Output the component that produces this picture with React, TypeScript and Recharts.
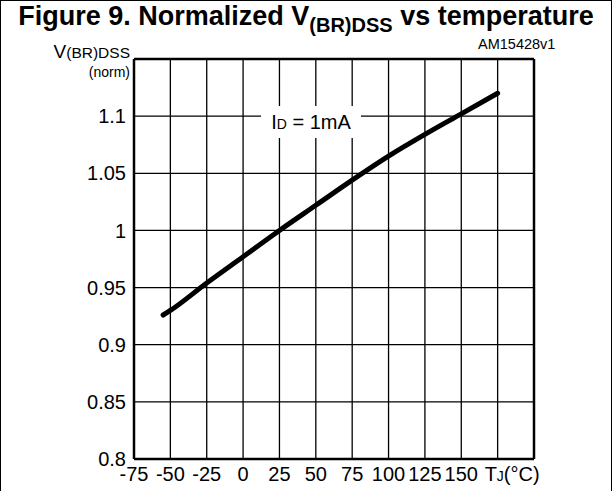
import { CartesianGrid, Line, LineChart, ReferenceLine, XAxis, YAxis } from 'recharts'

// Tj (°C)
const temps = [-55, -50, -25, 0, 25, 50, 75, 100, 125, 150, 175]
// V(BR)DSS normalized to 25 °C
const vbrNorm = [0.926, 0.93, 0.954, 0.977, 1.0, 1.022, 1.044, 1.065, 1.084, 1.102, 1.12]

const xTicks = [-75, -50, -25, 0, 25, 50, 75, 100, 125, 150, 175, 200]
const yTicks = [0.8, 0.85, 0.9, 0.95, 1, 1.05, 1.1, 1.15]

const data = temps.map((t, i) => ({ t, v: vbrNorm[i] }))

const FONT = '"Liberation Sans", Arial, sans-serif'

function XTick(props: any) {
  const { x, y, payload } = props
  const val = payload.value
  if (val === 200) return null
  if (val === 175) {
    return (
      <text x={x - 13} y={y} dy={14} fontSize={20} fontFamily={FONT} fill="#000" textAnchor="start">
        T<tspan fontSize={14}>J</tspan>
        <tspan fontSize={20}>(°C)</tspan>
      </text>
    )
  }
  return (
    <text x={x} y={y} dy={14} fontSize={20} fontFamily={FONT} fill="#000" textAnchor="middle">
      {val}
    </text>
  )
}

export default function App() {
  return (
    <div
      style={{
        position: 'absolute',
        left: 0,
        top: 0,
        width: 612,
        height: 491,
        background: '#fff',
        fontFamily: FONT,
        color: '#000',
      }}
    >
      {/* outer frame: top, left, right */}
      <div
        style={{
          position: 'absolute',
          left: 0,
          top: 0,
          width: 610,
          height: 491,
          borderTop: '1px solid #000',
          borderLeft: '1px solid #000',
          borderRight: '1px solid #000',
        }}
      />
      <div
        style={{
          position: 'absolute',
          left: 0,
          width: 612,
          top: 1,
          textAlign: 'center',
          fontWeight: 'bold',
          fontSize: 27,
          lineHeight: '30px',
          whiteSpace: 'nowrap',
        }}
      >
        Figure 9. Normalized V
        <span style={{ fontSize: 20, position: 'relative', top: 7 }}>(BR)DSS</span> vs temperature
      </div>
      <div style={{ position: 'absolute', left: 478, top: 36, fontSize: 14.5, whiteSpace: 'nowrap' }}>AM15428v1</div>
      <div style={{ position: 'absolute', right: 482, top: 41, fontSize: 19, whiteSpace: 'nowrap', textAlign: 'right' }}>
        V<span style={{ fontSize: 15.5 }}>(BR)DSS</span>
      </div>
      <div style={{ position: 'absolute', right: 482, top: 64, fontSize: 14, whiteSpace: 'nowrap' }}>(norm)</div>

      <LineChart
        width={612}
        height={491}
        data={data}
        margin={{ top: 59, right: 78, bottom: 2, left: 74 }}
        style={{ position: 'absolute', left: 0, top: 0 }}
      >
        <CartesianGrid stroke="#000" strokeWidth={1.3} />
        <XAxis
          dataKey="t"
          type="number"
          domain={[-75, 200]}
          ticks={xTicks}
          interval={0}
          height={30}
          tickLine={false}
          axisLine={{ stroke: '#000', strokeWidth: 2.5 }}
          tick={<XTick />}
        />
        <YAxis
          type="number"
          domain={[0.8, 1.15]}
          ticks={yTicks}
          interval={0}
          width={60}
          tickLine={false}
          axisLine={{ stroke: '#000', strokeWidth: 2.5 }}
          tick={{ fontSize: 20, fontFamily: FONT, fill: '#000' }}
          tickFormatter={(v: number) => (v === 1.15 ? '' : String(v))}
        />
        <ReferenceLine y={1.15} stroke="#000" strokeWidth={2.5} />
        <ReferenceLine x={200} stroke="#000" strokeWidth={2.5} />
        <Line
          dataKey="v"
          type="monotone"
          stroke="#000"
          strokeWidth={5}
          strokeLinecap="round"
          dot={false}
          isAnimationActive={false}
        />
      </LineChart>

      <div
        style={{
          position: 'absolute',
          left: 261,
          top: 106,
          width: 100,
          height: 32,
          background: '#fff',
          fontSize: 20,
          lineHeight: '32px',
          textAlign: 'center',
          whiteSpace: 'nowrap',
        }}
      >
        I<span style={{ fontSize: 14 }}>D</span> = 1mA
      </div>
    </div>
  )
}
